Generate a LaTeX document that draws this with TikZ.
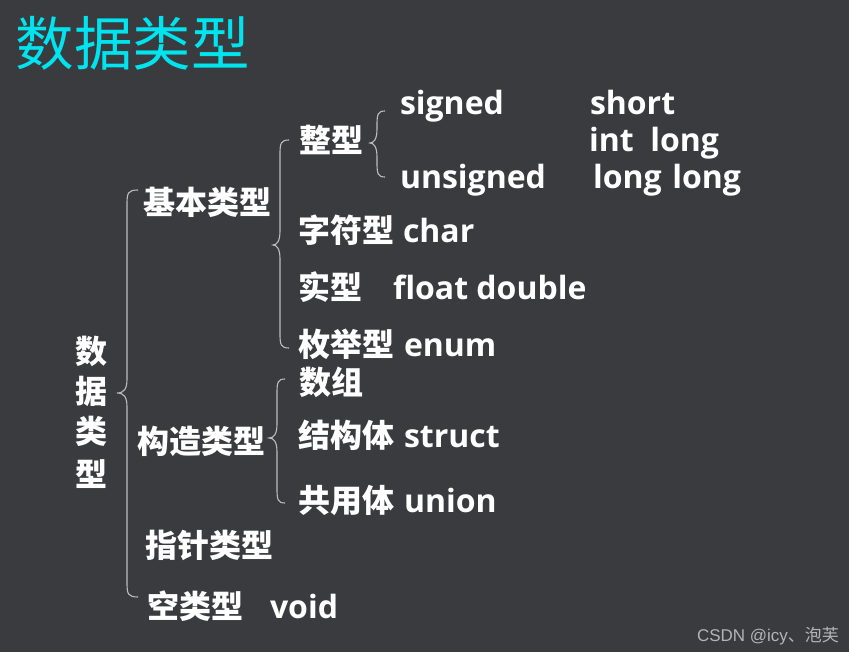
\documentclass[tikz,border=0pt]{standalone}
\usepackage{fontspec}
\setmainfont{Open Sans}
\newfontfamily\cjk{Noto Sans CJK SC}
\newfontfamily\wmfont{Liberation Sans}
\definecolor{bgc}{HTML}{3A3B3F}
\definecolor{titlec}{HTML}{00E4EF}
\definecolor{bracec}{HTML}{BDBDBD}
\definecolor{wmc}{HTML}{B4B4B4}
\newcommand\drawcurly[6]{% xend, xline, xtip, ytop, ytip, ybot
  \draw[bracestyle] (#1,#4) .. controls ({#2+1},#4) and (#2,{#4+3}) .. (#2,{#4+14})
    -- (#2,{#5-14}) .. controls (#2,{#5-4}) and ({#2-3},#5) .. (#3,#5)
    .. controls ({#2-3},#5) and (#2,{#5+4}) .. (#2,{#5+14})
    -- (#2,{#6-14}) .. controls (#2,{#6-3}) and ({#2+1},#6) .. (#1,#6);}
\begin{document}
\begin{tikzpicture}[x=1pt,y=-1pt,
  every node/.style={inner sep=0pt,outer sep=0pt},
  bracestyle/.style={draw=bracec,line width=1.1pt},
  zh/.style={anchor=base west,text=white,font=\cjk\bfseries\fontsize{32}{38}\selectfont},
  zhv/.style={anchor=base,text=white,font=\cjk\bfseries\fontsize{32}{38}\selectfont},
  en/.style={anchor=base west,text=white,font=\bfseries\fontsize{32}{38}\selectfont},
  ttl/.style={anchor=base west,text=titlec,font=\cjk\fontsize{58.5}{66}\selectfont},
  wm/.style={anchor=base west,text=wmc,font=\wmfont\fontsize{17}{20}\selectfont}]
\fill[bgc] (0,0) rectangle (849,652);
\useasboundingbox (0,0) rectangle (849,652);
% title
\node[ttl] (title) at (16,66) {数据类型};
% vertical root label
\node[zhv] (r1) at (91,363) {数};
\node[zhv] (r2) at (91,403) {据};
\node[zhv] (r3) at (91,443) {类};
\node[zhv] (r4) at (91,486) {型};
% level 1
\node[zh] (basic) at (143,215) {基本类型};
\node[zh] (constr) at (137,453) {构造类型};
\node[zh] (ptr) at (145,557) {指针类型};
\node[zh] (voidt) at (147,618) {空类型};
\node[en] (voidw) at (270,618) {void};
% level 2 basic
\node[zh] (intt) at (299,153) {整型};
\node[zh] (chart) at (298,243) {字符型};
\node[en] (charw) at (403,243) {char};
\node[zh] (realt) at (298,300) {实型};
\node[en] (realw) at (393,300) {float double};
\node[zh] (enumt) at (298,357) {枚举型};
\node[en] (enumw) at (404,357) {enum};
% level 2 constructed
\node[zh] (arr) at (299,395) {数组};
\node[zh] (structt) at (298,447) {结构体};
\node[en] (structw) at (404,447) {struct};
\node[zh] (uniont) at (298,512) {共用体};
\node[en] (unionw) at (404,512) {union};
% level 3 int
\node[en] (signed) at (400,115) {signed};
\node[en] (unsigned) at (400,189) {unsigned};
\node[en] (short) at (590,115) {short};
\node[en] (intlong) at (589,152) {int\ \ long};
\node[en] (longlong) at (593,189) {long\,\,long};
% braces
\drawcurly{138}{127}{117}{190}{393}{597}
\drawcurly{289}{280}{273}{140}{245}{348}
\drawcurly{385}{377}{370}{111}{143}{177}
\drawcurly{285}{277}{269}{379}{438}{503}
% watermark
\node[wm] (mark) at (697,641) {CSDN @icy{\cjk 、泡芙}};
\end{tikzpicture}
\end{document}
